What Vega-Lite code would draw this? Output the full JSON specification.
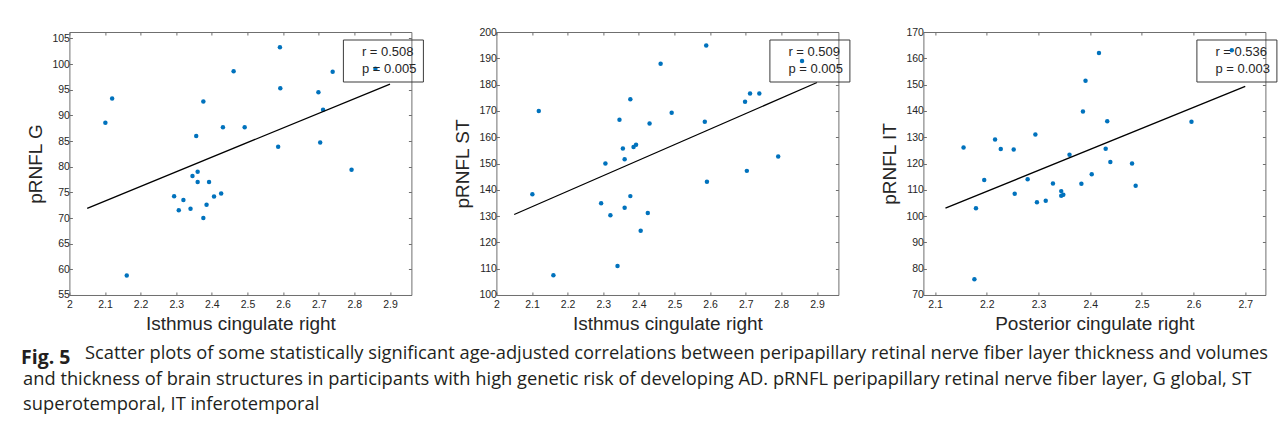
{
  "$schema": "https://vega.github.io/schema/vega-lite/v6.json",
  "background": "white",
  "padding": {"left": 20.4, "top": 26, "right": 5, "bottom": 5},
  "config": {
    "font": "Liberation Sans",
    "view": {"stroke": "#6e6e6e", "strokeWidth": 1},
    "axis": {"grid": false, "domain": false, "tickSize": -3, "tickColor": "#6e6e6e", "labelColor": "#262626", "labelFontSize": 10.5, "labelFont": "Liberation Sans", "labelFlush": false, "labelOverlap": false, "titleFont": "Liberation Sans", "titleFontSize": 19, "titleFontWeight": "normal", "titleColor": "#262626"},
    "axisX": {"labelPadding": 8, "titlePadding": 4},
    "axisY": {"labelPadding": 3, "titlePadding": 6},
    "legend": {"orient": "none", "legendX": 273, "legendY": 7.5, "labelFontSize": 13, "labelColor": "#262626", "labelFont": "Liberation Sans", "symbolSize": 0, "symbolOpacity": 0, "symbolStrokeWidth": 0, "labelOffset": 0, "padding": 6, "rowPadding": 2.5, "strokeColor": "#3a3a3a"}
  },
  "title": {
    "text": ["and thickness of brain structures in participants with high genetic risk of developing AD. pRNFL peripapillary retinal nerve fiber layer, G global, ST", "superotemporal, IT inferotemporal"],
    "orient": "bottom", "anchor": "start", "frame": "bounds", "font": "Open Sans", "fontSize": 18.3, "fontWeight": "normal", "color": "#231f20", "lineHeight": 25, "offset": 4, "dx": 2
  },
  "vconcat": [
    {
      "title": {
        "text": "Scatter plots of some statistically significant age-adjusted correlations between peripapillary retinal nerve fiber layer thickness and volumes",
        "orient": "bottom", "anchor": "start", "frame": "bounds", "font": "Open Sans", "fontSize": 18.3, "fontWeight": "normal", "color": "#231f20", "offset": 0, "dx": 64, "dy": -22
      },
      "vconcat": [
        {
          "title": {"text": "Fig. 5", "orient": "bottom", "anchor": "start", "frame": "bounds", "font": "Open Sans", "fontSize": 19.5, "fontWeight": "bold", "color": "#231f20", "offset": 15, "dx": -5.3},
          "spacing": 85,
          "bounds": "flush",
          "resolve": {"scale": {"color": "independent"}, "legend": {"color": "independent"}},
          "hconcat": [
            {
              "width": 342, "height": 263,
              "resolve": {"axis": {"x": "independent", "y": "independent"}},
              "layer": [
                {
                  "data": {"values": [
                    {"x": 2.101, "y": 88.55}, {"x": 2.120, "y": 93.3}, {"x": 2.161, "y": 58.8}, {"x": 2.294, "y": 74.25}, {"x": 2.307, "y": 71.5}, {"x": 2.320, "y": 73.5}, {"x": 2.340, "y": 71.8}, {"x": 2.3455, "y": 78.2}, {"x": 2.356, "y": 86.0}, {"x": 2.360, "y": 79.0}, {"x": 2.360, "y": 77.0}, {"x": 2.376, "y": 92.7}, {"x": 2.376, "y": 70.0}, {"x": 2.385, "y": 72.6}, {"x": 2.392, "y": 77.0}, {"x": 2.406, "y": 74.2}, {"x": 2.426, "y": 74.8}, {"x": 2.431, "y": 87.7}, {"x": 2.461, "y": 98.6}, {"x": 2.492, "y": 87.7}, {"x": 2.586, "y": 83.9}, {"x": 2.591, "y": 103.3}, {"x": 2.592, "y": 95.3}, {"x": 2.699, "y": 94.5}, {"x": 2.704, "y": 84.7}, {"x": 2.712, "y": 91.1}, {"x": 2.739, "y": 98.5}, {"x": 2.792, "y": 79.4}, {"x": 2.859, "y": 99.1}
                  ]},
                  "mark": {"type": "circle", "size": 20, "color": "#0072BD", "opacity": 1},
                  "encoding": {
                    "x": {"field": "x", "type": "quantitative", "scale": {"domain": [2, 2.96], "nice": false, "zero": false}, "axis": {"orient": "bottom", "values": [2, 2.1, 2.2, 2.3, 2.4, 2.5, 2.6, 2.7, 2.8, 2.9], "format": ".1~f", "title": "Isthmus cingulate right"}},
                    "y": {"field": "y", "type": "quantitative", "scale": {"domain": [55, 106.25], "nice": false, "zero": false}, "axis": {"orient": "left", "values": [55, 60, 65, 70, 75, 80, 85, 90, 95, 100, 105], "title": "pRNFL G"}}
                  }
                },
                {
                  "data": {"values": [{"x": 2.05, "y": 71.9}, {"x": 2.9, "y": 96.1}]},
                  "mark": {"type": "line", "color": "#000000", "strokeWidth": 1.3},
                  "encoding": {
                    "x": {"field": "x", "type": "quantitative", "scale": {"domain": [2, 2.96], "nice": false, "zero": false}, "axis": {"orient": "top", "labels": false, "title": null, "values": [2, 2.1, 2.2, 2.3, 2.4, 2.5, 2.6, 2.7, 2.8, 2.9]}},
                    "y": {"field": "y", "type": "quantitative", "scale": {"domain": [55, 106.25], "nice": false, "zero": false}, "axis": {"orient": "right", "labels": false, "title": null, "values": [55, 60, 65, 70, 75, 80, 85, 90, 95, 100, 105]}}
                  }
                },
                {
                  "data": {"values": [{"stat": "r = 0.508"}, {"stat": "p = 0.005"}]},
                  "mark": {"type": "point", "opacity": 0},
                  "encoding": {
                    "color": {"field": "stat", "type": "nominal", "sort": null, "scale": {"range": ["#262626", "#262626"]}, "legend": {"title": null, "orient": "none", "legendX": 273.5, "legendY": 7.5}}
                  }
                }
              ]
            },
            {
              "width": 342, "height": 263,
              "resolve": {"axis": {"x": "independent", "y": "independent"}},
              "layer": [
                {
                  "data": {"values": [
                    {"x": 2.101, "y": 138.3}, {"x": 2.119, "y": 170.0}, {"x": 2.160, "y": 107.5}, {"x": 2.294, "y": 134.9}, {"x": 2.306, "y": 150.0}, {"x": 2.320, "y": 130.3}, {"x": 2.340, "y": 111.0}, {"x": 2.3455, "y": 166.6}, {"x": 2.355, "y": 155.7}, {"x": 2.360, "y": 151.6}, {"x": 2.360, "y": 133.2}, {"x": 2.376, "y": 174.4}, {"x": 2.376, "y": 137.6}, {"x": 2.385, "y": 156.3}, {"x": 2.392, "y": 157.1}, {"x": 2.405, "y": 124.4}, {"x": 2.425, "y": 131.2}, {"x": 2.430, "y": 165.2}, {"x": 2.461, "y": 187.9}, {"x": 2.492, "y": 169.3}, {"x": 2.585, "y": 165.9}, {"x": 2.589, "y": 194.9}, {"x": 2.591, "y": 143.1}, {"x": 2.698, "y": 173.5}, {"x": 2.703, "y": 147.2}, {"x": 2.712, "y": 176.6}, {"x": 2.738, "y": 176.6}, {"x": 2.791, "y": 152.7}, {"x": 2.858, "y": 189.0}
                  ]},
                  "mark": {"type": "circle", "size": 20, "color": "#0072BD", "opacity": 1},
                  "encoding": {
                    "x": {"field": "x", "type": "quantitative", "scale": {"domain": [2, 2.96], "nice": false, "zero": false}, "axis": {"orient": "bottom", "values": [2, 2.1, 2.2, 2.3, 2.4, 2.5, 2.6, 2.7, 2.8, 2.9], "format": ".1~f", "title": "Isthmus cingulate right"}},
                    "y": {"field": "y", "type": "quantitative", "scale": {"domain": [100, 200], "nice": false, "zero": false}, "axis": {"orient": "left", "values": [100, 110, 120, 130, 140, 150, 160, 170, 180, 190, 200], "title": "pRNFL ST"}}
                  }
                },
                {
                  "data": {"values": [{"x": 2.05, "y": 130.6}, {"x": 2.9, "y": 180.8}]},
                  "mark": {"type": "line", "color": "#000000", "strokeWidth": 1.3},
                  "encoding": {
                    "x": {"field": "x", "type": "quantitative", "scale": {"domain": [2, 2.96], "nice": false, "zero": false}, "axis": {"orient": "top", "labels": false, "title": null, "values": [2, 2.1, 2.2, 2.3, 2.4, 2.5, 2.6, 2.7, 2.8, 2.9]}},
                    "y": {"field": "y", "type": "quantitative", "scale": {"domain": [100, 200], "nice": false, "zero": false}, "axis": {"orient": "right", "labels": false, "title": null, "values": [100, 110, 120, 130, 140, 150, 160, 170, 180, 190, 200]}}
                  }
                },
                {
                  "data": {"values": [{"stat": "r = 0.509"}, {"stat": "p = 0.005"}]},
                  "mark": {"type": "point", "opacity": 0},
                  "encoding": {
                    "color": {"field": "stat", "type": "nominal", "sort": null, "scale": {"range": ["#262626", "#262626"]}, "legend": {"title": null, "orient": "none", "legendX": 273, "legendY": 7.5}}
                  }
                }
              ]
            },
            {
              "width": 342, "height": 263,
              "resolve": {"axis": {"x": "independent", "y": "independent"}},
              "layer": [
                {
                  "data": {"values": [
                    {"x": 2.155, "y": 126.1}, {"x": 2.176, "y": 76.0}, {"x": 2.179, "y": 103.0}, {"x": 2.195, "y": 113.7}, {"x": 2.216, "y": 129.1}, {"x": 2.227, "y": 125.5}, {"x": 2.252, "y": 125.3}, {"x": 2.254, "y": 108.5}, {"x": 2.279, "y": 114.0}, {"x": 2.294, "y": 131.0}, {"x": 2.297, "y": 105.3}, {"x": 2.314, "y": 105.8}, {"x": 2.328, "y": 112.4}, {"x": 2.344, "y": 109.5}, {"x": 2.344, "y": 107.7}, {"x": 2.348, "y": 108.1}, {"x": 2.360, "y": 123.3}, {"x": 2.383, "y": 112.3}, {"x": 2.386, "y": 139.8}, {"x": 2.391, "y": 151.5}, {"x": 2.403, "y": 115.9}, {"x": 2.417, "y": 162.0}, {"x": 2.430, "y": 125.6}, {"x": 2.433, "y": 136.1}, {"x": 2.439, "y": 120.6}, {"x": 2.481, "y": 120.0}, {"x": 2.488, "y": 111.5}, {"x": 2.596, "y": 135.9}, {"x": 2.674, "y": 163.1}
                  ]},
                  "mark": {"type": "circle", "size": 20, "color": "#0072BD", "opacity": 1},
                  "encoding": {
                    "x": {"field": "x", "type": "quantitative", "scale": {"domain": [2.0773, 2.739], "nice": false, "zero": false}, "axis": {"orient": "bottom", "values": [2.1, 2.2, 2.3, 2.4, 2.5, 2.6, 2.7], "format": ".1~f", "title": "Posterior cingulate right"}},
                    "y": {"field": "y", "type": "quantitative", "scale": {"domain": [70, 170], "nice": false, "zero": false}, "axis": {"orient": "left", "values": [70, 80, 90, 100, 110, 120, 130, 140, 150, 160, 170], "title": "pRNFL IT"}}
                  }
                },
                {
                  "data": {"values": [{"x": 2.12, "y": 103.0}, {"x": 2.7, "y": 149.3}]},
                  "mark": {"type": "line", "color": "#000000", "strokeWidth": 1.3},
                  "encoding": {
                    "x": {"field": "x", "type": "quantitative", "scale": {"domain": [2.0773, 2.739], "nice": false, "zero": false}, "axis": {"orient": "top", "labels": false, "title": null, "values": [2.1, 2.2, 2.3, 2.4, 2.5, 2.6, 2.7]}},
                    "y": {"field": "y", "type": "quantitative", "scale": {"domain": [70, 170], "nice": false, "zero": false}, "axis": {"orient": "right", "labels": false, "title": null, "values": [70, 80, 90, 100, 110, 120, 130, 140, 150, 160, 170]}}
                  }
                },
                {
                  "data": {"values": [{"stat": "r = 0.536"}, {"stat": "p = 0.003"}]},
                  "mark": {"type": "point", "opacity": 0},
                  "encoding": {
                    "color": {"field": "stat", "type": "nominal", "sort": null, "scale": {"range": ["#262626", "#262626"]}, "legend": {"title": null, "orient": "none", "legendX": 273, "legendY": 7.5}}
                  }
                }
              ]
            }
          ]
        }
      ]
    }
  ]
}
